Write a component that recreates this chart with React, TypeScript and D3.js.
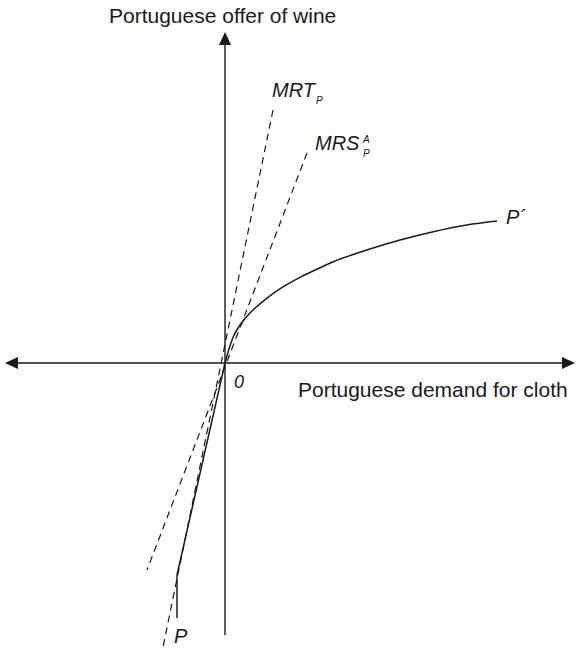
import React, { useEffect } from "react";
import * as d3 from "d3";

// Offer curve P' (upper branch, through origin) in data units
const offerX = [0, 0.83, 1.5, 2.5, 4.17, 5.83, 7.5, 9.17, 10.83, 14.17, 17.5, 20.83, 24.17, 27.2];
const offerY = [0, 2.63, 3.8, 5.0, 6.47, 7.63, 8.57, 9.37, 10.13, 11.3, 12.3, 13.13, 13.8, 14.2];
// Lower branch (straight segment then vertical)
const lowerX = [0, -4.8, -4.8];
const lowerY = [0, -21.2, -25.5];
// Dashed rays
const mrtX = [4.8, -6.2];
const mrtY = [25.3, -28.4];
const mrsX = [8.2, -7.8];
const mrsY = [21.0, -20.7];
// Axis extents
const xAxisExtent = [-22, 35];
const yAxisExtent = [-27.2, 33.1];

const labels = {
  yTitle: "Portuguese offer of wine",
  xTitle: "Portuguese demand for cloth",
  origin: "0",
  mrt: "MRT",
  mrs: "MRS",
  pPrime: "P´",
  p: "P",
};

const W = 577;
const H = 649;

export default function App() {
  useEffect(() => {
    document.body.style.margin = "0";
  }, []);

  const x = d3.scaleLinear().domain([0, 10]).range([225, 325]);
  const y = d3.scaleLinear().domain([0, 10]).range([363, 263]);

  const line = d3
    .line<[number, number]>()
    .x((d) => x(d[0]))
    .y((d) => y(d[1]));
  const curve = d3
    .line<[number, number]>()
    .x((d) => x(d[0]))
    .y((d) => y(d[1]))
    .curve(d3.curveCatmullRom.alpha(0.5));

  const offerPts = offerX.map((v, i) => [v, offerY[i]] as [number, number]);
  const lowerPts = lowerX.map((v, i) => [v, lowerY[i]] as [number, number]);
  const mrtPts = mrtX.map((v, i) => [v, mrtY[i]] as [number, number]);
  const mrsPts = mrsX.map((v, i) => [v, mrsY[i]] as [number, number]);

  const x0 = x(0);
  const y0 = y(0);
  const xl = x(xAxisExtent[0]);
  const xr = x(xAxisExtent[1]);
  const yt = y(yAxisExtent[1]);
  const yb = y(yAxisExtent[0]);
  const ah = 13; // arrow length
  const aw = 6; // arrow half-width

  const font = "'Liberation Sans', Arial, Helvetica, sans-serif";

  return (
    <svg width={W} height={H} style={{ display: "block", background: "#fff" }} fontFamily={font}>
      {/* axes */}
      <line x1={xl + ah - 2} y1={y0} x2={xr - ah + 2} y2={y0} stroke="#1a1a1a" strokeWidth={1.4} />
      <line x1={x0} y1={yt + ah - 2} x2={x0} y2={yb} stroke="#1a1a1a" strokeWidth={1.4} />
      <path d={`M${x0},${yt} L${x0 - aw},${yt + ah} L${x0 + aw},${yt + ah} Z`} fill="#1a1a1a" />
      <path d={`M${xl},${y0} L${xl + ah},${y0 - aw} L${xl + ah},${y0 + aw} Z`} fill="#1a1a1a" />
      <path d={`M${xr},${y0} L${xr - ah},${y0 - aw} L${xr - ah},${y0 + aw} Z`} fill="#1a1a1a" />

      {/* dashed rays */}
      <path d={line(mrtPts) || ""} fill="none" stroke="#1a1a1a" strokeWidth={1.2} strokeDasharray="7,5" />
      <path d={line(mrsPts) || ""} fill="none" stroke="#1a1a1a" strokeWidth={1.2} strokeDasharray="7,5" />

      {/* offer curve */}
      <path d={curve(offerPts) || ""} fill="none" stroke="#1a1a1a" strokeWidth={1.5} />
      <path d={line(lowerPts) || ""} fill="none" stroke="#1a1a1a" strokeWidth={1.5} />

      {/* titles */}
      <text x={109} y={23} fontSize={21} fill="#1a1a1a">{labels.yTitle}</text>
      <text x={298} y={397} fontSize={21} fill="#1a1a1a">{labels.xTitle}</text>

      {/* labels */}
      <text x={234} y={388} fontSize={18} fontStyle="italic" fill="#1a1a1a">{labels.origin}</text>
      <text x={272} y={97} fontSize={20} fontStyle="italic" fill="#1a1a1a">
        {labels.mrt}
      </text>
      <text x={316} y={104} fontSize={10} fontStyle="italic" fill="#1a1a1a">P</text>
      <text x={315} y={150} fontSize={20} fontStyle="italic" fill="#1a1a1a">
        {labels.mrs}
      </text>
      <text x={363} y={143} fontSize={10} fontStyle="italic" fill="#1a1a1a">A</text>
      <text x={363} y={157} fontSize={10} fontStyle="italic" fill="#1a1a1a">P</text>
      <text x={506} y={224} fontSize={20} fontStyle="italic" fill="#1a1a1a">{labels.pPrime}</text>
      <text x={174} y={643} fontSize={20} fontStyle="italic" fill="#1a1a1a">{labels.p}</text>
    </svg>
  );
}
